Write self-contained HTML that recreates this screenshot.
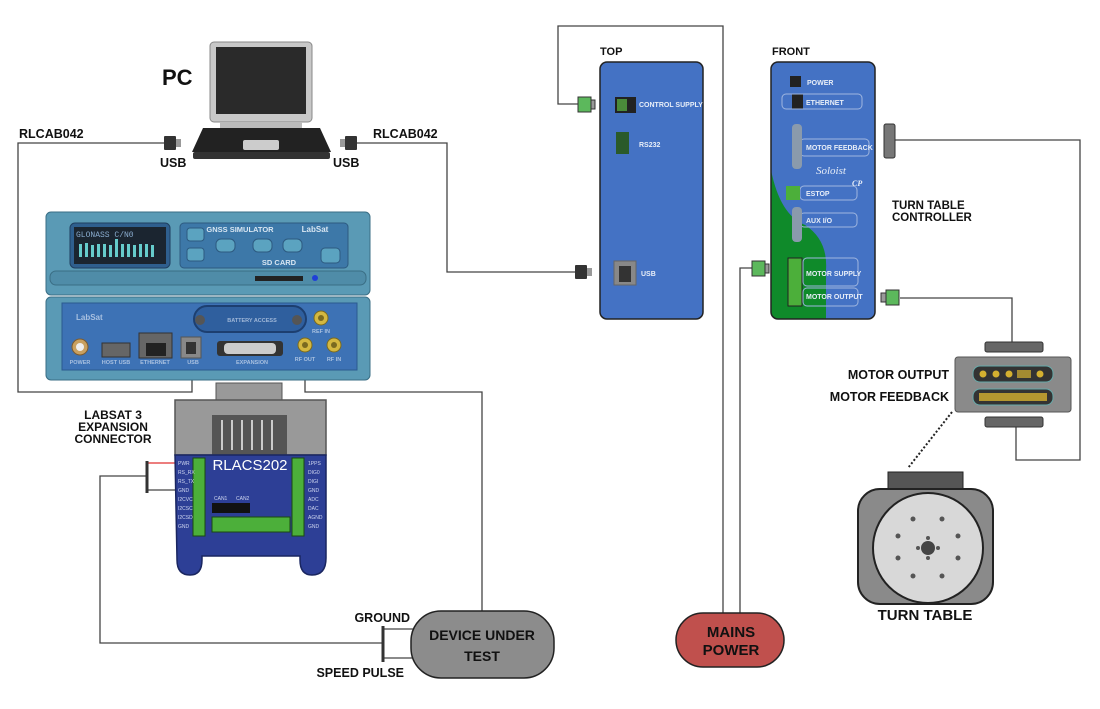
<!DOCTYPE html>
<html><head><meta charset="utf-8"><style>
html,body{margin:0;padding:0;background:#fff;}
svg{display:block;font-family:"Liberation Sans",Arial,sans-serif;}
.b{font-weight:bold;fill:#111;}
.w{font-weight:bold;fill:#e8eef8;font-size:7px;}
</style></head><body>
<svg width="1100" height="709" viewBox="0 0 1100 709" xmlns="http://www.w3.org/2000/svg">
<rect width="1100" height="709" fill="#fff"/>
<g fill="none" stroke="#444" stroke-width="1.3">
<polyline points="165,143 18,143 18,392 192,392 192,345"/>
<polyline points="355,143 447,143 447,272 578,272"/>
<polyline points="305,345 305,392 482,392 482,612"/>
<polyline points="580,104 558,104 558,26 723,26 723,614"/>
<polyline points="740,614 740,268 752,268"/>
<polyline points="892,140 1080,140 1080,460 1016,460 1016,425"/>
<polyline points="900,298 1012,298 1012,344"/>
<polyline points="147,476 100,476 100,643 383,643"/>
<line x1="383" y1="629" x2="414" y2="629"/>
<line x1="383" y1="658" x2="414" y2="658"/>
<line x1="147" y1="490" x2="178" y2="490"/>
</g>
<line x1="147" y1="463" x2="178" y2="463" stroke="#e03030" stroke-width="1.3"/>
<line x1="147" y1="461" x2="147" y2="493" stroke="#333" stroke-width="3"/>
<line x1="383" y1="626" x2="383" y2="662" stroke="#333" stroke-width="3"/>
<line x1="952" y1="412" x2="908" y2="468" stroke="#222" stroke-width="2" stroke-dasharray="2,2"/>

<text x="162" y="85" class="b" font-size="22">PC</text>
<text x="19" y="138" class="b" font-size="12.5">RLCAB042</text>
<text x="373" y="138" class="b" font-size="12.5">RLCAB042</text>
<text x="160" y="167" class="b" font-size="12.5">USB</text>
<text x="333" y="167" class="b" font-size="12.5">USB</text>
<text x="600" y="55" class="b" font-size="11">TOP</text>
<text x="772" y="55" class="b" font-size="11">FRONT</text>
<text x="892" y="209" class="b" font-size="11.5">TURN TABLE</text>
<text x="892" y="221" class="b" font-size="11.5">CONTROLLER</text>
<text x="949" y="379" class="b" font-size="12.5" text-anchor="end">MOTOR OUTPUT</text>
<text x="949" y="401" class="b" font-size="12.5" text-anchor="end">MOTOR FEEDBACK</text>
<text x="925" y="620" class="b" font-size="15" text-anchor="middle">TURN TABLE</text>
<text x="113" y="419" class="b" font-size="12" text-anchor="middle">LABSAT 3</text>
<text x="113" y="431" class="b" font-size="12" text-anchor="middle">EXPANSION</text>
<text x="113" y="443" class="b" font-size="12" text-anchor="middle">CONNECTOR</text>
<text x="410" y="622" class="b" font-size="12.5" text-anchor="end">GROUND</text>
<text x="404" y="677" class="b" font-size="12.5" text-anchor="end">SPEED PULSE</text>

<g>
<rect x="164" y="136" width="12" height="14" fill="#333" rx="1"/><rect x="176" y="139" width="5" height="8" fill="#999"/>
<rect x="345" y="136" width="12" height="14" fill="#333" rx="1"/><rect x="340" y="139" width="5" height="8" fill="#999"/>
<rect x="575" y="265" width="12" height="14" fill="#333" rx="1"/><rect x="587" y="268" width="5" height="8" fill="#999"/>
</g>
<g stroke="#333" stroke-width="1">
<rect x="578" y="97" width="13" height="15" fill="#5cb85c"/><rect x="591" y="100" width="4" height="9" fill="#999"/>
<rect x="752" y="261" width="13" height="15" fill="#5cb85c"/><rect x="765" y="264" width="4" height="9" fill="#999"/>
<rect x="886" y="290" width="13" height="15" fill="#5cb85c"/><rect x="881" y="293" width="5" height="9" fill="#999"/>
<rect x="884" y="124" width="11" height="34" fill="#777" rx="2"/>
</g>

<g>
<rect x="210" y="42" width="102" height="80" rx="4" fill="#c8c8c8" stroke="#888"/>
<rect x="216" y="47" width="90" height="67" fill="#2a2a2a"/>
<rect x="220" y="122" width="82" height="7" fill="#bbb"/>
<path d="M203 128 L320 128 L331 152 L192 152 Z" fill="#222"/>
<rect x="243" y="140" width="36" height="10" rx="2" fill="#ccc"/>
<rect x="193" y="152" width="137" height="7" rx="2" fill="#333"/>
</g>

<g>
<rect x="46" y="212" width="324" height="83" rx="5" fill="#5a9ab5" stroke="#3a6e85"/>
<rect x="70" y="223" width="100" height="45" rx="5" fill="#2f5f8e" stroke="#1f3f60"/>
<rect x="74" y="227" width="92" height="37" fill="#1b2530"/>
<text x="76" y="237" font-size="8" fill="#8ac" font-family="Liberation Mono,monospace">GLONASS C/N0</text>
<g fill="#6cc">
<rect x="79" y="244" width="3" height="13"/><rect x="85" y="243" width="3" height="14"/><rect x="91" y="245" width="3" height="12"/><rect x="97" y="244" width="3" height="13"/><rect x="103" y="244" width="3" height="13"/><rect x="109" y="245" width="3" height="12"/><rect x="115" y="239" width="3" height="18"/><rect x="121" y="244" width="3" height="13"/><rect x="127" y="244" width="3" height="13"/><rect x="133" y="245" width="3" height="12"/><rect x="139" y="244" width="3" height="13"/><rect x="145" y="244" width="3" height="13"/><rect x="151" y="245" width="3" height="12"/></g>
<rect x="180" y="223" width="168" height="45" rx="4" fill="#3d78a8" stroke="#2d5a80"/>
<text x="240" y="232" font-size="7.5" font-weight="bold" fill="#d8e6f2" text-anchor="middle">GNSS SIMULATOR</text>
<text x="315" y="232" font-size="8" font-weight="bold" fill="#d8e6f2" text-anchor="middle">LabSat</text>
<text x="279" y="265" font-size="7.5" font-weight="bold" fill="#d8e6f2" text-anchor="middle">SD CARD</text>
<g fill="#5ba3c0" stroke="#2d5a80"><rect x="187" y="228" width="17" height="13" rx="3"/><rect x="187" y="248" width="17" height="13" rx="3"/><rect x="216" y="239" width="19" height="13" rx="5"/><rect x="253" y="239" width="19" height="13" rx="5"/><rect x="283" y="239" width="19" height="13" rx="5"/><rect x="321" y="248" width="19" height="15" rx="4"/></g>
<rect x="50" y="271" width="316" height="14" rx="6" fill="#4f8ca8" stroke="#3a6e85"/>
<rect x="255" y="276" width="48" height="5" fill="#222"/>
<circle cx="315" cy="278" r="3" fill="#1f3fd8"/>
</g>
<g>
<rect x="46" y="297" width="324" height="83" rx="5" fill="#5a9ab5" stroke="#3a6e85"/>
<rect x="62" y="303" width="295" height="67" fill="#3d72b5" stroke="#2a5a90"/>
<text x="76" y="320" font-size="8" font-weight="bold" fill="#a8c0e0">LabSat</text>
<rect x="194" y="306" width="112" height="26" rx="13" fill="#2f5f9e" stroke="#1d3f70" stroke-width="2"/>
<text x="252" y="322" font-size="5.5" font-weight="bold" fill="#9fb7d8" text-anchor="middle">BATTERY ACCESS</text>
<circle cx="200" cy="320" r="5" fill="#555"/><circle cx="297" cy="320" r="5" fill="#555"/>
<circle cx="80" cy="347" r="8" fill="#c8a060" stroke="#7a5a30"/><circle cx="80" cy="347" r="4" fill="#eee"/>
<rect x="102" y="343" width="28" height="14" fill="#666" stroke="#333"/>
<rect x="139" y="333" width="33" height="25" fill="#666" stroke="#333"/><rect x="146" y="343" width="20" height="13" fill="#222"/>
<rect x="181" y="337" width="20" height="21" fill="#888" stroke="#555"/><rect x="186" y="342" width="10" height="12" fill="#333"/>
<rect x="217" y="341" width="66" height="15" rx="3" fill="#333"/><rect x="224" y="343" width="52" height="11" rx="4" fill="#ccc"/>
<circle cx="321" cy="318" r="7" fill="#d4b840" stroke="#7a6a20"/><circle cx="321" cy="318" r="3" fill="#7a6a20"/>
<circle cx="305" cy="345" r="7" fill="#d4b840" stroke="#7a6a20"/><circle cx="305" cy="345" r="3" fill="#7a6a20"/>
<circle cx="334" cy="345" r="7" fill="#d4b840" stroke="#7a6a20"/><circle cx="334" cy="345" r="3" fill="#7a6a20"/>
<g font-size="5.5" font-weight="bold" fill="#a8c0e0" text-anchor="middle">
<text x="80" y="364">POWER</text><text x="116" y="364">HOST USB</text><text x="155" y="364">ETHERNET</text><text x="193" y="364">USB</text><text x="252" y="364">EXPANSION</text><text x="305" y="361">RF OUT</text><text x="334" y="361">RF IN</text><text x="321" y="333">REF IN</text></g>
</g>

<g>
<rect x="216" y="383" width="66" height="20" fill="#999" stroke="#555"/>
<rect x="175" y="400" width="151" height="55" fill="#999" stroke="#555" stroke-width="1.5"/>
<rect x="212" y="415" width="75" height="40" fill="#555"/>
<g stroke="#ccc" stroke-width="2"><line x1="222" y1="420" x2="222" y2="450"/><line x1="232" y1="420" x2="232" y2="450"/><line x1="242" y1="420" x2="242" y2="450"/><line x1="252" y1="420" x2="252" y2="450"/><line x1="262" y1="420" x2="262" y2="450"/><line x1="272" y1="420" x2="272" y2="450"/></g>
<path d="M175 455 L326 455 L326 558 Q326 575 312 575 Q300 575 300 560 L300 556 L202 556 L202 560 Q202 575 190 575 Q177 575 177 560 Z" fill="#2d3f96" stroke="#1a2660" stroke-width="1.5"/>
<text x="250" y="470" font-size="15" fill="#fff" text-anchor="middle">RLACS202</text>
<rect x="193" y="458" width="12" height="78" fill="#4caf3a" stroke="#1a4a10"/>
<rect x="292" y="458" width="12" height="78" fill="#4caf3a" stroke="#1a4a10"/>
<rect x="212" y="517" width="78" height="15" fill="#4caf3a" stroke="#1a4a10"/>
<rect x="212" y="503" width="38" height="10" fill="#111"/>
<g font-size="5" fill="#cfd6f0"><text x="178" y="465">PWR</text><text x="178" y="474">RS_RX</text><text x="178" y="483">RS_TX</text><text x="178" y="492">GND</text><text x="178" y="501">I2CVC</text><text x="178" y="510">I2CSC</text><text x="178" y="519">I2CSD</text><text x="178" y="528">GND</text>
<text x="308" y="465">1PPS</text><text x="308" y="474">DIG0</text><text x="308" y="483">DIGI</text><text x="308" y="492">GND</text><text x="308" y="501">ADC</text><text x="308" y="510">DAC</text><text x="308" y="519">AGND</text><text x="308" y="528">GND</text>
<text x="214" y="500">CAN1</text><text x="236" y="500">CAN2</text></g>
</g>

<g>
<rect x="600" y="62" width="103" height="257" rx="7" fill="#4472c4" stroke="#222" stroke-width="1.5"/>
<rect x="615" y="97" width="21" height="16" fill="#222"/><rect x="617" y="99" width="10" height="12" fill="#4a8a3a"/>
<rect x="616" y="132" width="13" height="22" fill="#2a5a2a"/>
<rect x="614" y="261" width="22" height="24" fill="#888" stroke="#666"/><rect x="619" y="266" width="12" height="16" fill="#333"/>
<text x="639" y="107" class="w">CONTROL SUPPLY</text>
<text x="639" y="147" class="w">RS232</text>
<text x="641" y="276" class="w">USB</text>
</g>

<g>
<clipPath id="fc"><rect x="771" y="62" width="104" height="257" rx="7"/></clipPath>
<rect x="771" y="62" width="104" height="257" rx="7" fill="#4472c4"/>
<path clip-path="url(#fc)" d="M771 170 Q780 215 805 225 Q828 240 826 270 L826 330 L760 330 Z" fill="#0f8a2a"/>
<rect x="771" y="62" width="104" height="257" rx="7" fill="none" stroke="#222" stroke-width="1.5"/>
<rect x="790" y="76" width="11" height="11" fill="#222"/>
<rect x="792" y="94" width="11" height="15" fill="#222"/>
<g fill="none" stroke="#9fb6e0"><rect x="782" y="94" width="80" height="15" rx="4"/><rect x="800" y="139" width="69" height="17" rx="4"/><rect x="800" y="186" width="57" height="14" rx="4"/><rect x="800" y="213" width="57" height="14" rx="4"/><rect x="803" y="258" width="55" height="28" rx="4"/><rect x="803" y="288" width="55" height="18" rx="4"/></g>
<rect x="792" y="124" width="10" height="45" rx="4" fill="#8a9aac"/>
<rect x="792" y="207" width="10" height="35" rx="4" fill="#8a9aac"/>
<rect x="786" y="186" width="14" height="14" fill="#4caf3a"/>
<rect x="788" y="258" width="14" height="48" fill="#4caf3a" stroke="#222"/>
<text x="807" y="85" class="w">POWER</text>
<text x="806" y="105" class="w">ETHERNET</text>
<text x="806" y="150" class="w">MOTOR FEEDBACK</text>
<text x="816" y="174" font-size="11" font-style="italic" fill="#e8eef8" font-family="Liberation Serif,serif">Soloist</text>
<text x="852" y="186" font-size="8" font-style="italic" font-weight="bold" fill="#e8eef8" font-family="Liberation Serif,serif">CP</text>
<text x="806" y="196" class="w">ESTOP</text>
<text x="806" y="223" class="w">AUX I/O</text>
<text x="806" y="276" class="w">MOTOR SUPPLY</text>
<text x="806" y="299" class="w">MOTOR OUTPUT</text>
</g>

<g>
<rect x="985" y="342" width="58" height="10" rx="2" fill="#666" stroke="#333"/>
<rect x="985" y="417" width="58" height="10" rx="2" fill="#666" stroke="#333"/>
<rect x="955" y="357" width="116" height="55" rx="3" fill="#8a8a8a" stroke="#555"/>
<rect x="973" y="366" width="80" height="16" rx="7" fill="#333" stroke="#6aa"/>
<rect x="973" y="389" width="80" height="16" rx="7" fill="#333" stroke="#6aa"/>
<g fill="#d4b030"><circle cx="983" cy="374" r="3.5"/><circle cx="996" cy="374" r="3.5"/><circle cx="1009" cy="374" r="3.5"/><circle cx="1040" cy="374" r="3.5"/><rect x="1017" y="370" width="14" height="8" opacity=".7"/><rect x="979" y="393" width="68" height="8" opacity=".8"/></g>
</g>

<g>
<rect x="888" y="472" width="75" height="22" fill="#555" stroke="#222"/>
<rect x="858" y="489" width="135" height="115" rx="22" fill="#8a8a8a" stroke="#222" stroke-width="2"/>
<circle cx="928" cy="548" r="55" fill="#d8d8d8" stroke="#222" stroke-width="2"/>
<circle cx="928" cy="548" r="7" fill="#444"/>
<g fill="#555"><circle cx="913" cy="519" r="2.5"/><circle cx="942" cy="519" r="2.5"/><circle cx="898" cy="536" r="2.5"/><circle cx="958" cy="536" r="2.5"/><circle cx="898" cy="558" r="2.5"/><circle cx="958" cy="558" r="2.5"/><circle cx="913" cy="576" r="2.5"/><circle cx="942" cy="576" r="2.5"/><circle cx="928" cy="538" r="2"/><circle cx="928" cy="558" r="2"/><circle cx="918" cy="548" r="2"/><circle cx="938" cy="548" r="2"/></g>
</g>

<rect x="411" y="611" width="143" height="67" rx="30" fill="#8c8c8c" stroke="#222" stroke-width="1.5"/>
<text x="482" y="640" class="b" font-size="14" text-anchor="middle">DEVICE UNDER</text>
<text x="482" y="661" class="b" font-size="14" text-anchor="middle">TEST</text>
<rect x="676" y="613" width="108" height="54" rx="27" fill="#c0504d" stroke="#222" stroke-width="1.5"/>
<text x="731" y="637" class="b" font-size="15" text-anchor="middle">MAINS</text>
<text x="731" y="655" class="b" font-size="15" text-anchor="middle">POWER</text>
</svg>
</body></html>
